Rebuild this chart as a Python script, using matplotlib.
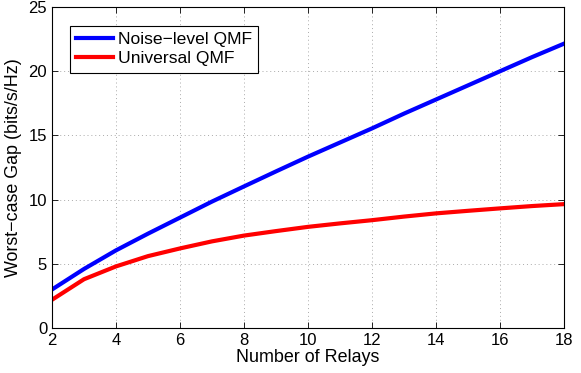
import matplotlib
matplotlib.use("Agg")
import matplotlib.pyplot as plt

relays = list(range(2, 19))
noise_level = [3.0, 4.6, 6.05, 7.35, 8.6, 9.85, 11.03, 12.2, 13.35, 14.45,
               15.55, 16.7, 17.8, 18.9, 20.0, 21.1, 22.15]
universal = [2.2, 3.8, 4.8, 5.6, 6.2, 6.75, 7.2, 7.55, 7.88, 8.15,
             8.4, 8.68, 8.93, 9.13, 9.32, 9.5, 9.65]
xticks = [2, 4, 6, 8, 10, 12, 14, 16, 18]
yticks = [0, 5, 10, 15, 20, 25]

plt.rcParams['font.family'] = ['Liberation Sans', 'DejaVu Sans']
fig = plt.figure(figsize=(5.81, 3.73), dpi=100)
ax = fig.add_axes([0.0895, 0.1206, 0.8812, 0.8604])

ax.plot(relays, noise_level, color='#0000ff', lw=3, label='Noise\u2212level QMF')
ax.plot(relays, universal, color='#ff0000', lw=3, label='Universal QMF')

ax.set_xlim(2, 18)
ax.set_ylim(0, 25)
ax.set_xticks(xticks)
ax.set_yticks(yticks)
ax.tick_params(direction='in', top=True, right=True, labelsize=12, length=4, width=0.6)
for s in ax.spines.values():
    s.set_linewidth(0.8)
ax.grid(True, linestyle=(0, (1, 3)), color='#aaaaaa', linewidth=0.7)
ax.set_xlabel('Number of Relays', fontsize=12.9, labelpad=1)
ax.set_ylabel('Worst\u2212case Gap (bits/s/Hz)', fontsize=12.9, labelpad=5)

leg = ax.legend(loc='upper left', bbox_to_anchor=(0.035, 0.941), borderaxespad=0,
                fontsize=12.6, fancybox=False, edgecolor='black', framealpha=1,
                handlelength=2.1, borderpad=0.35, labelspacing=0.22, handletextpad=0.3)
leg.get_frame().set_linewidth(0.8)

fig.savefig('out.png', dpi=100)
